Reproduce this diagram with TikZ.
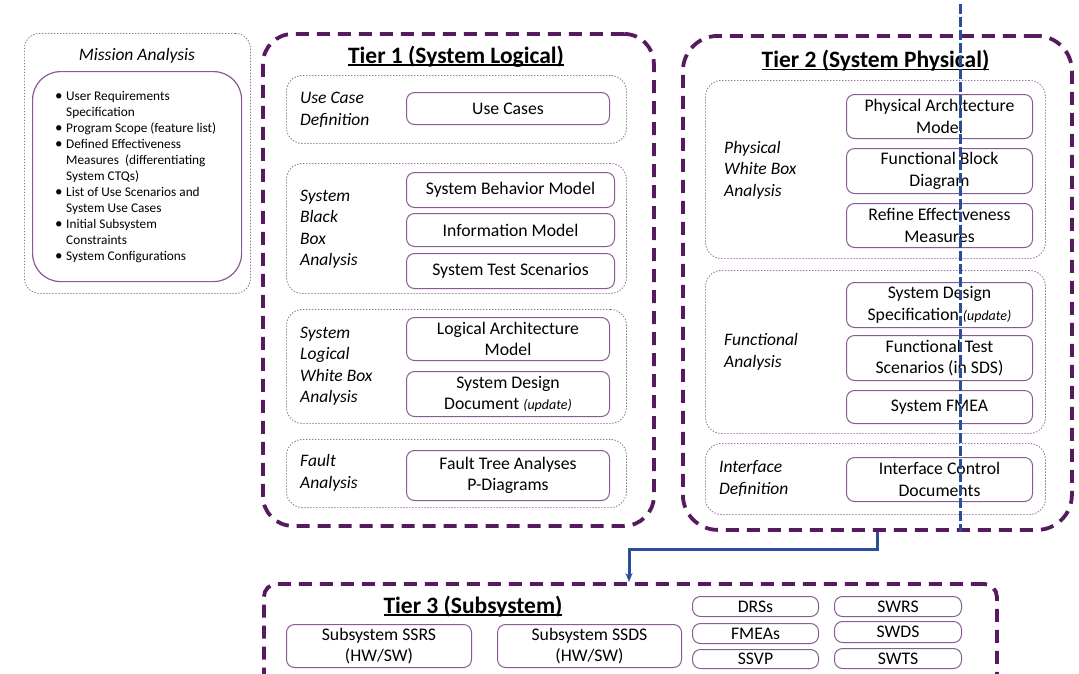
\documentclass[tikz,border=0pt]{standalone}
\usepackage{fontspec}
\setmainfont{Carlito}
\usetikzlibrary{arrows.meta}

\definecolor{tierc}{HTML}{561A5E}
\definecolor{grpc}{HTML}{9A6CA3}
\definecolor{itemc}{HTML}{8A5A94}
\definecolor{flow}{HTML}{2C4C9C}

% underline drawn just below the baseline, crossing the descenders
\newcommand\tierul[1]{\setbox0=\hbox{#1}\rlap{\rule[-2.8pt]{\wd0}{1.4pt}}\box0}
\newcommand\bl{\makebox[11pt][l]{\raisebox{-0.4pt}{\fontsize{15}{16}\selectfont\textbullet}}}
\newcommand\ind{\hspace*{11pt}}
\newcommand\upd{{\fontsize{14}{14}\selectfont\itshape (update)}}

% multi-line labels are anchored at the baseline of their last line
\tikzset{
  tier/.style={draw=tierc, line width=3.8pt, dash pattern=on 13pt off 8pt,
    rounded corners=#1, anchor=north west, inner sep=0pt},
  tier/.default=30pt,
  grp/.style={draw=grpc, line width=0.9pt, dash pattern=on 1.3pt off 1.7pt,
    rounded corners=16pt, anchor=north west, inner sep=0pt},
  item/.style={draw=itemc, line width=1pt, rounded corners=8pt, anchor=north west,
    inner sep=0pt, align=center, font=\fontsize{17.7}{21.5}\selectfont},
  lbl/.style={anchor=base west, inner sep=0pt, align=left,
    font=\fontsize{17.5}{21.5}\selectfont\itshape},
  ttl/.style={anchor=base, inner sep=0pt, font=\fontsize{23.5}{26}\selectfont\bfseries},
  conn/.style={draw=flow, line width=3pt, -{Stealth[length=9pt,width=7pt]}},
  guide/.style={draw=flow, line width=3pt, dash pattern=on 10pt off 3pt},
}

\begin{document}
\begin{tikzpicture}[x=1pt, y=-1pt]
\useasboundingbox (0,0) rectangle (1079,673);
\clip (0,0) rectangle (1079,673);

% ---------------- Mission analysis ----------------
\node[grp, rounded corners=15pt, minimum width=226pt, minimum height=260pt] (ma) at (24,33) {};
\node[anchor=base, inner sep=0pt, font=\fontsize{17.5}{21}\selectfont\itshape] (mat) at (137,60) {Mission Analysis};
\node[draw=itemc, line width=1.2pt, rounded corners=28pt, anchor=north west, inner sep=0pt,
  minimum width=209pt, minimum height=210pt] (mab) at (32,71) {};
\node[anchor=base west, inner sep=0pt, align=left, font=\fontsize{13.3}{16}\selectfont] (mal) at (55,260)
  {\bl User Requirements\\
   \ind Specification\\
   \bl Program Scope (feature list)\\
   \bl Defined Effectiveness\\
   \ind Measures~ (differentiating\\
   \ind System CTQs)\\
   \bl List of Use Scenarios and\\
   \ind System Use Cases\\
   \bl Initial Subsystem\\
   \ind Constraints\\
   \bl System Configurations};

% ---------------- Tier 1 ----------------
\node[tier=30pt, minimum width=391pt, minimum height=492pt] (t1) at (261,32) {};
\node[ttl] (t1t) at (456,63) {\tierul{Tier 1 (System Logical)}};

\node[grp, minimum width=340pt, minimum height=68pt]  (g11) at (286,75) {};
\node[grp, minimum width=340pt, minimum height=130pt] (g12) at (286,163) {};
\node[grp, minimum width=340pt, minimum height=114pt] (g13) at (286,309) {};
\node[grp, minimum width=340pt, minimum height=68pt]  (g14) at (286,439) {};

\node[lbl] (l11) at (300,125)   {Use Case\\Definition};
\node[lbl] (l12) at (300,265.5) {System\\Black\\Box\\Analysis};
\node[lbl] (l13) at (300,402.5) {System\\Logical\\White Box\\Analysis};
\node[lbl] (l14) at (300,488)   {Fault\\Analysis};

\node[item, minimum width=203pt, minimum height=32pt] (uc)  at (406,92)  {Use Cases};
\node[item, minimum width=208pt, minimum height=35pt] (sbm) at (406,172) {System Behavior Model};
\node[item, minimum width=208pt, minimum height=33pt] (im)  at (406,213) {Information Model};
\node[item, minimum width=208pt, minimum height=35pt] (sts) at (406,253) {System Test Scenarios};
\node[item, minimum width=203pt, minimum height=43pt] (lam) at (406,317) {Logical Architecture\\Model};
\node[item, minimum width=203pt, minimum height=45pt] (sdd) at (406,371) {System Design\\Document \upd};
\node[item, minimum width=203pt, minimum height=50pt] (fta) at (406,450) {Fault Tree Analyses\\P-Diagrams};

% ---------------- Tier 2 ----------------
\node[tier=35pt, minimum width=389pt, minimum height=494pt] (t2) at (681,34) {};
\node[ttl] (t2t) at (875.5,67.5) {\tierul{Tier 2 (System Physical)}};

\node[grp, minimum width=340pt, minimum height=178pt] (g21) at (705,80) {};
\node[grp, minimum width=340pt, minimum height=163pt] (g22) at (705,270) {};
\node[grp, minimum width=340pt, minimum height=71pt]  (g23) at (705,443) {};

\node[lbl] (l21) at (724,196) {Physical\\White Box\\Analysis};
\node[lbl] (l22) at (724,367) {Functional\\Analysis};
\node[lbl] (l23) at (719,494) {Interface\\Definition};

\node[item, minimum width=186pt, minimum height=44pt] (pam)  at (846,94)  {Physical Architecture\\Model};
\node[item, minimum width=186pt, minimum height=45pt] (fbd)  at (846,148) {Functional Block\\Diagram};
\node[item, minimum width=186pt, minimum height=44pt] (rem)  at (846,203) {Refine Effectiveness\\Measures};
\node[item, minimum width=186pt, minimum height=45pt] (sds)  at (846,282) {System Design\\Specification \upd};
\node[item, minimum width=186pt, minimum height=45pt] (fts)  at (846,335) {Functional Test\\Scenarios (in SDS)};
\node[item, minimum width=186pt, minimum height=33pt] (fmea) at (846,390) {System FMEA};
\node[item, minimum width=186pt, minimum height=44pt] (icd)  at (846,457) {Interface Control\\Documents};

% ---------------- Tier 3 ----------------
\node[tier=13pt, minimum width=733pt, minimum height=120pt] (t3) at (262,582) {};
\node[ttl] (t3t) at (473,613) {\tierul{Tier 3 (Subsystem)}};

\node[item, minimum width=185pt, minimum height=43pt] (ssrs) at (286,624) {Subsystem SSRS\\(HW/SW)};
\node[item, minimum width=184pt, minimum height=43pt] (ssds) at (497,624) {Subsystem SSDS\\(HW/SW)};
\node[item, minimum width=126pt, minimum height=20pt] (drs)  at (692,596) {DRSs};
\node[item, minimum width=126pt, minimum height=20pt] (fmeas) at (692,623) {FMEAs};
\node[item, minimum width=126pt, minimum height=19pt] (ssvp) at (692,649) {SSVP};
\node[item, minimum width=127pt, minimum height=20pt] (swrs) at (834,596) {SWRS};
\node[item, minimum width=127pt, minimum height=21pt] (swds) at (834,621) {SWDS};
\node[item, minimum width=127pt, minimum height=20pt] (swts) at (834,648) {SWTS};

% ---------------- flow lines ----------------
\coordinate (btop) at (960,4);
\draw[guide] (btop) -- (btop |- t2.south);

\coordinate (cx) at (877,0);
\coordinate (ax) at (629,0);
\coordinate (mid) at (0,549);
\draw[conn] (cx |- t2.south) |- (ax |- mid) -- (ax |- t3.north);
\end{tikzpicture}
\end{document}
